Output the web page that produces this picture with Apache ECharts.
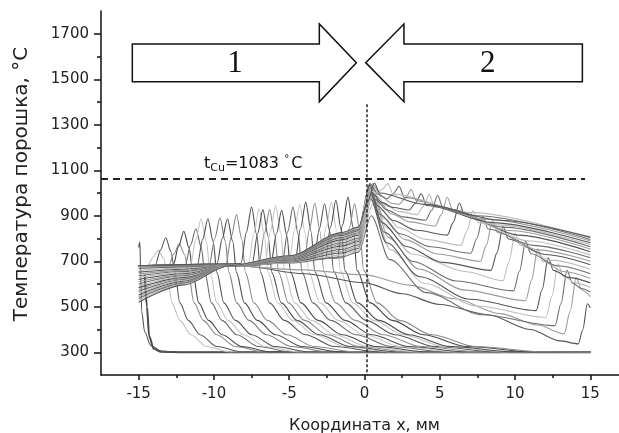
<!DOCTYPE html>
<html>
<head>
<meta charset="utf-8">
<script src="https://cdn.jsdelivr.net/npm/echarts@6/dist/echarts.min.js"></script>
<style>
  html, body { margin: 0; padding: 0; background: #fff; }
  #chart { width: 619px; height: 433px; }
</style>
</head>
<body>
<div id="chart"></div>
<script>
// тики осей
var xTicksMajor = [-15, -10, -5, 0, 5, 10, 15];
var xTicksMinor = [-12.5, -7.5, -2.5, 2.5, 7.5, 12.5];
var yTicksMajor = [300, 500, 700, 900, 1100, 1300, 1500, 1700];
var yTicksMinor = [400, 600, 800, 1000, 1200, 1400, 1600];

// линия плавления меди (подпись 1083, на рисунке проведена чуть ниже)
var meltLabel = 1083;
var meltLevel = 1062;
var centerX = 0.15;

// источник 1 (движется слева направо)
var curvesA = [
  [[-14.6,640],[-14.45,500],[-14.3,370],[-14.0,315],[-13.5,302],[-12,300],[15,300]],
  [[-15.0,760],[-14.92,784],[-14.86,640],[-14.8,480],[-14.6,390],[-14.2,330],[-13.5,305],[-12,300],[15,300]],
  [[-15,680],[-14.4,680],[-14.05,717],[-13.7,748],[-13.35,714],[-13.1,650],[-12.79,517],[-12.26,440],[-11.53,377],[-10.49,325],[-8.92,302],[15,300]],
  [[-15,680],[-13.9,682],[-13.55,749],[-13.2,803],[-12.85,742],[-12.6,650],[-12.26,517],[-11.7,440],[-10.92,377],[-9.8,325],[-8.12,302],[15,300]],
  [[-15,680],[-13.0,682],[-12.65,734],[-12.3,777],[-11.95,730],[-11.7,650],[-11.32,517],[-10.7,440],[-9.82,377],[-8.56,325],[-6.68,302],[15,300]],
  [[-15,680],[-12.7,683],[-12.35,765],[-12.0,832],[-11.65,758],[-11.4,650],[-11.01,517],[-10.36,440],[-9.45,377],[-8.15,325],[-6.2,302],[15,300]],
  [[-15,680],[-11.9,684],[-11.55,771],[-11.2,843],[-10.85,764],[-10.6,650],[-10.17,517],[-9.46,440],[-8.47,377],[-7.05,325],[-4.92,302],[15,300]],
  [[-15,680],[-11.55,684],[-11.2,796],[-10.85,887],[-10.5,786],[-10.25,650],[-9.81,517],[-9.07,440],[-8.04,377],[-6.57,325],[-4.36,302],[15,300]],
  [[-15,680],[-11.1,685],[-10.75,796],[-10.4,887],[-10.05,786],[-9.8,650],[-9.34,517],[-8.57,440],[-7.49,377],[-5.95,325],[-3.64,302],[15,300]],
  [[-15,680],[-10.3,686],[-9.95,799],[-9.6,891],[-9.25,789],[-9.0,650],[-8.5,517],[-7.67,440],[-6.51,377],[-4.85,325],[-2.36,302],[15,300]],
  [[-15,680],[-9.8,687],[-9.45,799],[-9.1,887],[-8.75,787],[-8.5,650],[-7.98,517],[-7.11,440],[-5.9,377],[-4.16,325],[-1.56,302],[15,300]],
  [[-15,680],[-9.2,688],[-8.85,807],[-8.5,905],[-8.15,796],[-7.9,650],[-7.35,517],[-6.44,440],[-5.16,377],[-3.34,325],[-0.6,302],[15,300]],
  [[-15,680],[-8.2,690],[-7.85,826],[-7.5,938],[-7.15,814],[-6.9,650],[-6.31,517],[-5.32,440],[-3.94,377],[-1.96,325],[1.0,302],[15,300]],
  [[-15,680],[-8,682],[-7.7,691],[-7.35,822],[-7.0,930],[-6.65,811],[-6.4,650],[-5.78,517],[-4.76,440],[-3.32,377],[-1.27,325],[1.8,302],[15,300]],
  [[-15,680],[-8,682],[-7.45,692],[-7.1,821],[-6.75,927],[-6.4,810],[-6.15,650],[-5.52,517],[-4.48,440],[-3.02,377],[-0.93,325],[2.2,302],[15,300]],
  [[-15,680],[-8,682],[-7.0,693],[-6.65,822],[-6.3,927],[-5.95,810],[-5.7,650],[-5.05,517],[-3.98,440],[-2.47,377],[-0.31,325],[2.92,302],[15,300]],
  [[-15,680],[-8,682],[-6.6,694],[-6.25,832],[-5.9,945],[-5.55,820],[-5.3,650],[-4.64,517],[-3.53,440],[-1.98,377],[0.24,325],[3.56,302],[15,300]],
  [[-15,680],[-8,682],[-6.2,695],[-5.85,821],[-5.5,924],[-5.15,810],[-4.9,650],[-4.22,517],[-3.08,440],[-1.49,377],[0.79,325],[4.2,302],[15,300]],
  [[-15,680],[-8,682],[-5.45,698],[-5.1,830],[-4.75,938],[-4.4,818],[-4.15,652],[-3.43,517],[-2.24,440],[-0.57,377],[1.82,325],[5.4,302],[15,300]],
  [[-15,680],[-8,682],[-5.0,700],[-4.65,838],[-4.3,950],[-3.95,825],[-3.7,652],[-2.96,517],[-1.74,440],[-0.02,377],[2.44,325],[6.12,302],[15,300]],
  [[-15,680],[-8,682],[-4.6,702],[-4.25,844],[-3.9,960],[-3.55,831],[-3.3,654],[-2.55,517],[-1.29,440],[0.47,377],[2.99,325],[6.76,302],[15,300]],
  [[-15,680],[-8,682],[-4.0,704],[-3.65,843],[-3.3,956],[-2.95,830],[-2.7,654],[-1.92,517],[-0.62,440],[1.21,377],[3.81,325],[7.72,302],[15,300]],
  [[-15,680],[-8,682],[-3.35,707],[-3.0,842],[-2.65,953],[-2.3,830],[-2.05,656],[-1.24,517],[0.11,440],[2.0,377],[4.71,325],[8.76,302],[15,300]],
  [[-15,680],[-8,682],[-2.9,709],[-2.55,847],[-2.2,960],[-1.85,834],[-1.6,656],[-0.77,517],[0.62,440],[2.56,377],[5.33,325],[9.48,302],[15,300]],
  [[-15,680],[-8,682],[-2.6,711],[-2.25,852],[-1.9,968],[-1.55,839],[-1.3,658],[-0.46,517],[0.95,440],[2.92,377],[5.74,325],[9.96,302],[15,300]],
  [[-15,680],[-8,682],[-1.8,714],[-1.45,861],[-1.1,982],[-0.75,848],[-0.5,660],[0.38,517],[1.85,440],[3.9,377],[6.84,325],[11.24,302],[15,300]],
  [[-15,680],[-8,682],[-1.36,716],[-1.01,846],[-0.66,953],[-0.31,835],[-0.06,660],[0.84,517],[2.34,440],[4.44,377],[7.44,325],[11.94,302],[15,300]]
];

// источник 2 (движется справа налево)
var curvesB = [
  [[-15,680],[-8,678],[-4,645],[0,605],[2.5,557],[5,510],[8.2,465],[11,400],[13,350],[14.2,337],[14.5,400],[14.8,513],[15,495]],
  [[-15,675],[-9,680],[-4,662],[0,640],[3,595],[6,535],[9,470],[11.5,420],[13.26,381],[13.66,480],[14.06,630],[14.41,575],[15,545]],
  [[-15,668],[-12,674],[-9,680],[-5,692],[-1.5,720],[-0.4,740],[0.45,900],[1.67,707],[4.11,562],[7.77,465],[12.65,417],[13.05,514],[13.45,660],[13.8,605],[14.4,580],[15,565]],
  [[-15,660],[-12,670],[-9,680],[-5,694],[-1.5,728],[-0.4,748],[0.55,950],[1.7,751],[4.0,602],[7.45,503],[12.05,453],[12.45,547],[12.85,689],[13.2,634],[14,605],[15,585]],
  [[-15,652],[-12,665],[-9,680],[-5,697],[-1.5,736],[-0.4,756],[0.35,980],[1.46,781],[3.67,632],[7.0,533],[11.4,483],[11.8,576],[12.2,715],[12.55,660],[13.6,628],[15,605]],
  [[-15,644],[-12,660],[-9,680],[-5,699],[-1.5,744],[-0.4,764],[0.55,990],[1.57,805],[3.6,666],[6.64,573],[10.7,527],[11.1,618],[11.5,755],[11.85,700],[13.2,655],[15,625]],
  [[-15,636],[-12,655],[-9,680],[-5,702],[-1.5,752],[-0.4,772],[0.35,1000],[1.31,828],[3.22,699],[6.08,613],[9.9,570],[10.3,657],[10.7,788],[11.05,733],[12.8,680],[15,645]],
  [[-15,628],[-12,650],[-9,680],[-5,704],[-1.5,760],[-0.4,780],[0.55,1005],[1.42,849],[3.15,732],[6.74,654],[9.2,615],[9.6,699],[10.0,824],[10.35,769],[12.4,705],[15,665]],
  [[-15,620],[-12,645],[-9,680],[-5,706],[-1.5,767],[-0.4,787],[0.35,1010],[1.16,870],[2.77,765],[5.18,695],[8.4,660],[8.8,737],[9.2,853],[9.55,798],[12,730],[15,685]],
  [[-15,610],[-12,640],[-9,680],[-5,708],[-1.5,774],[-0.4,794],[0.55,1015],[1.27,889],[2.7,795],[4.84,732],[7.7,700],[8.1,772],[8.5,880],[8.85,825],[11.5,750],[15,700]],
  [[-15,600],[-12,636],[-9,680],[-5,710],[-1.5,781],[-0.4,801],[0.35,1020],[1.02,906],[2.36,821],[4.38,764],[7.06,735],[7.46,800],[7.86,897],[8.21,842],[11.2,770],[15,715]],
  [[-15,592],[-12,632],[-9,680],[-5,712],[-1.5,788],[-0.4,808],[0.55,1025],[1.14,923],[2.31,847],[4.06,796],[6.4,770],[6.8,832],[7.2,924],[7.55,869],[10.8,790],[15,728]],
  [[-15,584],[-12,628],[-9,680],[-5,714],[-1.5,794],[-0.4,814],[0.35,1028],[0.87,943],[1.9,879],[3.44,836],[5.5,815],[5.9,871],[6.3,956],[6.65,901],[10.2,815],[15,742]],
  [[-15,576],[-12,624],[-9,680],[-5,716],[-1.5,800],[-0.4,820],[0.55,1031],[0.97,961],[1.8,908],[3.04,873],[4.7,855],[5.1,905],[5.5,981],[5.85,926],[9.6,835],[15,754]],
  [[-15,568],[-12,620],[-9,680],[-5,718],[-1.5,805],[-0.4,825],[0.35,1034],[0.72,972],[1.46,926],[2.58,895],[4.06,880],[4.46,924],[4.86,990],[5.21,935],[9.2,850],[15,764]],
  [[-15,560],[-12,616],[-9,680],[-5,719],[-1.5,810],[-0.4,830],[0.55,1036],[0.85,984],[1.44,944],[2.32,918],[3.5,905],[3.9,941],[4.3,994],[4.65,939],[8.8,860],[15,773]],
  [[-15,552],[-12,612],[-9,680],[-5,720],[-1.5,814],[-0.4,834],[0.35,1038],[0.61,993],[1.14,959],[1.92,936],[2.97,925],[3.37,954],[3.77,997],[4.12,945],[8.5,870],[15,781]],
  [[-15,544],[-12,608],[-9,680],[-5,721],[-1.5,818],[-0.4,838],[0.55,1040],[1.1,985],[1.8,955],[2.3,950],[2.7,976],[3.1,1015],[3.45,965],[8,885],[15,789]],
  [[-15,536],[-12,604],[-9,680],[-5,722],[-1.5,821],[-0.4,841],[0.35,1042],[0.9,995],[1.5,975],[1.9,997],[2.3,1029],[2.65,980],[7.5,900],[15,796]],
  [[-15,528],[-12,600],[-9,680],[-5,723],[-1.5,824],[-0.4,844],[0.3,1010],[0.8,1000],[1.15,1015],[1.55,1041],[1.9,995],[7,915],[15,802]],
  [[-15,520],[-12,596],[-9,680],[-5,724],[-1.5,826],[-0.4,850],[0.2,960],[0.66,1044],[1.0,1000],[4,950],[9,880],[15,806]]
];

// оттенки серого для кривых
var greyA = ['#4a4a4a','#555555','#c0c0c0','#5a5a5a','#8a8a8a','#454545','#6a6a6a','#c4c4c4','#505050',
  '#7a7a7a','#4a4a4a','#8a8a8a','#555555','#c8c8c8','#505050','#8a8a8a','#c4c4c4','#4a4a4a','#6a6a6a',
  '#c8c8c8','#505050','#909090','#5a5a5a','#c4c4c4','#4a4a4a','#444444','#8a8a8a'];
var greyB = ['#555555', '#9c9c9c', '#6e6e6e', '#bdbdbd'];

var chart = echarts.init(document.getElementById('chart'));
var font = 'DejaVu Sans';

var series = [];
curvesA.forEach(function (pts, i) {
  series.push({
    type: 'line', data: pts, showSymbol: false, smooth: 0.3, smoothMonotone: 'x',
    silent: true, lineStyle: { width: i === 0 ? 2 : 1.1, color: greyA[i] }
  });
});
curvesB.forEach(function (pts, i) {
  series.push({
    type: 'line', data: pts, showSymbol: false, smooth: 0.3, smoothMonotone: 'x',
    silent: true, lineStyle: { width: 1.1, color: greyB[i % greyB.length] }
  });
});
// пунктирные линии
series.push({
  type: 'line', data: [], silent: true,
  markLine: {
    symbol: 'none', silent: true, label: { show: false },
    data: [
      [{ coord: [-17.5, meltLevel], lineStyle: { type: [7, 5], width: 2, color: '#222' } },
       { coord: [14.65, meltLevel] }],
      [{ coord: [centerX, 1390], lineStyle: { type: [3, 2], width: 1.5, color: '#222' } },
       { coord: [centerX, 200] }]
    ]
  }
});

var axisText = { fontFamily: font, fontSize: 15, color: '#222', formatter: function (v) { return String(v); } };

chart.setOption({
  animation: false,
  backgroundColor: '#fff',
  grid: { left: 101, top: 11, width: 527, height: 364, containLabel: false, outerBoundsMode: 'none' },
  xAxis: [{
    type: 'value', min: -17.5, max: 17.5,
    axisLine: { onZero: false, lineStyle: { color: '#111', width: 1.5 } },
    axisTick: { length: 5, lineStyle: { color: '#111', width: 1.5 }, customValues: xTicksMajor },
    axisLabel: Object.assign({ margin: 12, customValues: xTicksMajor }, axisText),
    splitLine: { show: false },
    name: 'Координата х, мм', nameLocation: 'middle', nameGap: 43,
    nameTextStyle: { fontFamily: font, fontSize: 16, color: '#222' }
  }, {
    type: 'value', min: -17.5, max: 17.5, position: 'bottom',
    axisLine: { show: false, onZero: false },
    axisTick: { length: 3, lineStyle: { color: '#111', width: 1.5 }, customValues: xTicksMinor },
    axisLabel: { show: false }, splitLine: { show: false }
  }],
  yAxis: [{
    type: 'value', min: 200, max: 1800, position: 'left',
    axisLine: { show: true, onZero: false, lineStyle: { color: '#111', width: 1.5 } },
    axisTick: { show: true, length: 7, lineStyle: { color: '#111', width: 1.5 }, customValues: yTicksMajor },
    axisLabel: Object.assign({ margin: 12, customValues: yTicksMajor }, axisText),
    splitLine: { show: false }
  }, {
    type: 'value', min: 200, max: 1800, position: 'left',
    axisLine: { show: false, onZero: false },
    axisTick: { show: true, length: 4, lineStyle: { color: '#111', width: 1.5 }, customValues: yTicksMinor },
    axisLabel: { show: false }, splitLine: { show: false }
  }],
  series: series
});

// стрелки и подписи в координатах данных
function px(p) { return chart.convertToPixel({ xAxisIndex: 0, yAxisIndex: 0 }, p); }
var arrow1 = [[-15.42,1655],[-3.0,1655],[-3.0,1743],[-0.54,1573],[-3.0,1401],[-3.0,1489],[-15.42,1489]];
var arrow2 = [[14.47,1655],[2.62,1655],[2.62,1743],[0.08,1573],[2.62,1401],[2.62,1489],[14.47,1489]];
var lab1 = px([-8.6, 1567]);
var lab2 = px([8.18, 1567]);
var labT = px([-10.66, 1092]);

chart.setOption({
  graphic: [
    { type: 'polygon', shape: { points: arrow1.map(px) }, style: { fill: '#fff', stroke: '#111', lineWidth: 1.5 }, z: 10 },
    { type: 'polygon', shape: { points: arrow2.map(px) }, style: { fill: '#fff', stroke: '#111', lineWidth: 1.5 }, z: 10 },
    { type: 'text', x: lab1[0], y: lab1[1], z: 11,
      style: { text: '1', fontFamily: 'Liberation Serif', fontSize: 31, fill: '#111', align: 'center', verticalAlign: 'middle' } },
    { type: 'text', x: lab2[0], y: lab2[1], z: 11,
      style: { text: '2', fontFamily: 'Liberation Serif', fontSize: 31, fill: '#111', align: 'center', verticalAlign: 'middle' } },
    { type: 'text', x: labT[0], y: labT[1], z: 11,
      style: {
        text: '{a|t}{b|Cu}{a|=' + meltLabel + ' }{c|°}{a|C}',
        verticalAlign: 'bottom', align: 'left',
        rich: {
          a: { fontFamily: font, fontSize: 16, fill: '#111', verticalAlign: 'bottom' },
          b: { fontFamily: font, fontSize: 11, fill: '#111', verticalAlign: 'bottom', padding: [0, 0, -2, 0] },
          c: { fontFamily: font, fontSize: 10, fill: '#111', verticalAlign: 'top', padding: [0, 2, 8, 0] }
        }
      } },
    { type: 'text', x: 22, y: 184, rotation: Math.PI / 2, z: 11,
      style: { text: 'Температура порошка, °C', fontFamily: font, fontSize: 20, fill: '#222', align: 'center', verticalAlign: 'middle' } }
  ]
});
</script>
</body>
</html>
